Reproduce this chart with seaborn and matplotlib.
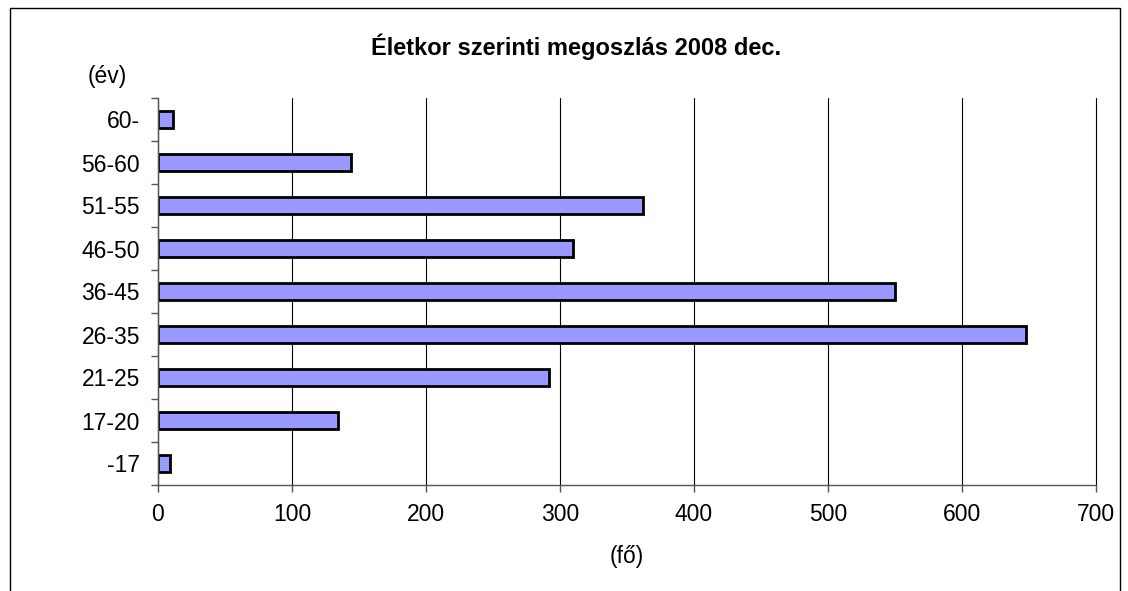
import matplotlib
matplotlib.use('Agg')
import matplotlib.pyplot as plt
from matplotlib.patches import Rectangle
import seaborn as sns
import pandas as pd
import numpy as np

# Age groups (top to bottom) and head counts
age_groups = ['60-', '56-60', '51-55', '46-50', '36-45', '26-35', '21-25', '17-20', '-17']
counts = [11, 144, 362, 310, 550, 648, 292, 134, 9]
x_ticks = [0, 100, 200, 300, 400, 500, 600, 700]

df = pd.DataFrame({'age': age_groups, 'count': counts})

sns.set_theme(style='white')
plt.rcParams['font.family'] = ['Liberation Sans', 'DejaVu Sans']
plt.rcParams['text.color'] = 'black'
plt.rcParams['xtick.color'] = 'black'
plt.rcParams['ytick.color'] = 'black'

fig = plt.figure(figsize=(11.28, 5.91), dpi=100)
ax = fig.add_axes([158/1128, 1 - 485/591, (1096-158)/1128, (485-98)/591])

sns.barplot(x='count', y='age', data=df, order=age_groups, orient='h',
            color='#9999FF', saturation=1, width=0.4,
            edgecolor='black', linewidth=2, ax=ax)

ax.set_xlim(0, 700)
ax.set_ylim(len(age_groups) - 0.5, -0.5)
ax.set_xticks(x_ticks)
ax.xaxis.grid(True, color='black', linewidth=0.8)
for gl in ax.get_xgridlines():
    gl.set_clip_on(False)
ax.set_axisbelow(True)

# category boundary ticks on y axis
ax.set_yticks(np.arange(-0.5, len(age_groups)), minor=True)
ax.tick_params(axis='y', which='major', length=0, pad=13, labelsize=16.5, labelcolor='black')
ax.tick_params(axis='y', which='minor', left=True, length=5, width=1, color='#555555')
ax.tick_params(axis='x', bottom=True, length=5, width=1, color='#555555',
               labelsize=16.5, pad=8, labelcolor='black')

for s in ['top', 'right']:
    ax.spines[s].set_visible(False)
for s in ['left', 'bottom']:
    ax.spines[s].set_color('#555555')
    ax.spines[s].set_linewidth(1)

ax.set_xlabel('')
ax.set_ylabel('')

fig.text(576/1128, 1 - 47/591, 'Életkor szerinti megoszlás 2008 dec.',
         ha='center', va='center', fontsize=17, fontweight='bold', color='black')
fig.text(107/1128, 1 - 77/591, '(év)', ha='center', va='center', fontsize=16.5, color='black')
fig.text(627/1128, 1 - 557/591, '(fő)', ha='center', va='center', fontsize=16.5, color='black')

# outer chart frame
fig.patches.append(Rectangle((10/1128, -0.1), (1120-10)/1128, 1.1 - 8/591,
                             transform=fig.transFigure, fill=False,
                             edgecolor='black', linewidth=1))

fig.savefig('out.png', dpi=100)
